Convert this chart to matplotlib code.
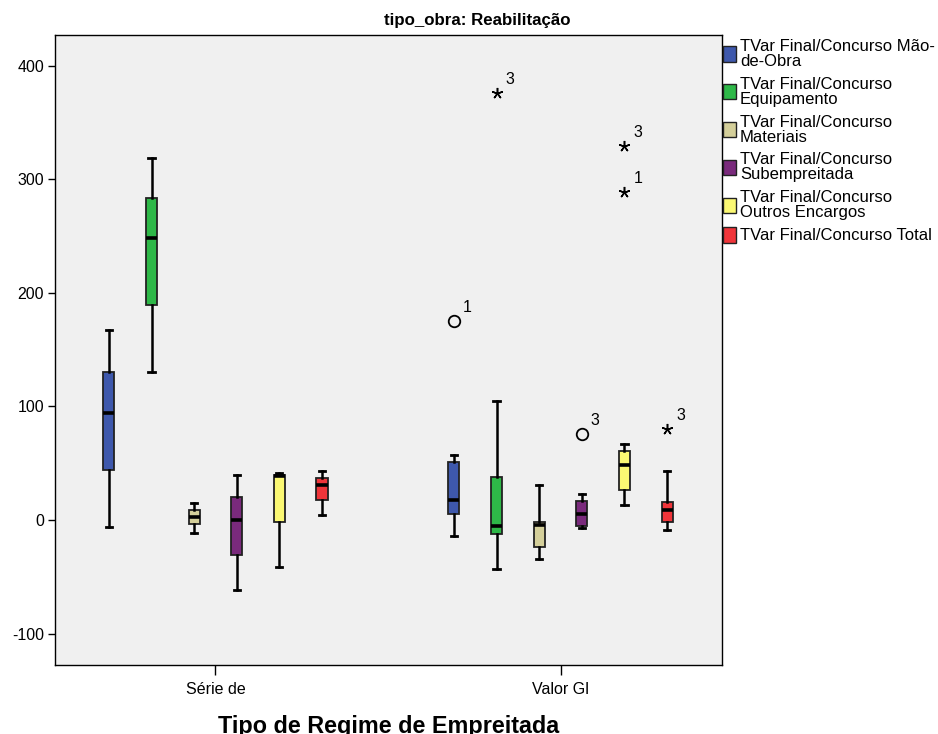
import matplotlib
matplotlib.use("Agg")
import matplotlib.pyplot as plt
from matplotlib.patches import Rectangle

plt.rcParams['font.family'] = ['Liberation Sans', 'DejaVu Sans']

# ---- data ----
groups = ["Série de", "Valor Gl"]
series = [
    "TVar Final/Concurso Mão-\nde-Obra",
    "TVar Final/Concurso\nEquipamento",
    "TVar Final/Concurso\nMateriais",
    "TVar Final/Concurso\nSubempreitada",
    "TVar Final/Concurso\nOutros Encargos",
    "TVar Final/Concurso Total",
]
colors = ["#3E58AC", "#2EB848", "#D4CF9A", "#7A2A7C", "#FBF873", "#F0353A"]

# five-number summaries: one list per series, one value per group
whis_lo = [[-6, -14], [130, -43], [-11, -34], [-62, -7], [-41, 13], [4, -9]]
q1 = [[44, 5], [189, -12], [-3.5, -24], [-31, -5], [-2, 26], [17.5, -1.5]]
median = [[94, 18], [248, -5], [3, -4], [0, 5], [39, 48], [30.5, 9]]
q3 = [[130, 51.5], [283, 37.5], [9, -2], [20, 17], [40, 61], [37, 16]]
whis_hi = [[167, 57], [319, 105], [15, 31], [40, 23], [41, 67], [43, 43]]

# outliers: (group index, series index, value, case label, extreme?)
outliers = [
    (1, 0, 175, "1", False),
    (1, 1, 376, "3", True),
    (1, 3, 76, "3", False),
    (1, 4, 329, "3", True),
    (1, 4, 289, "1", True),
    (1, 5, 80, "3", True),
]

yticks = [-100, 0, 100, 200, 300, 400]

# ---- layout ----
W, H = 938, 734
fig = plt.figure(figsize=(W / 100, H / 100), dpi=100)
fig.patch.set_facecolor("white")
ax = fig.add_axes([55 / W, 69 / H, 667 / W, 630 / H])
ax.set_facecolor("#F0F0F0")

step = 0.1235
box_w = 0.032
cap_w = 0.018

for s in range(len(series)):
    stats = []
    pos = []
    for g in range(len(groups)):
        stats.append(dict(med=median[s][g], q1=q1[s][g], q3=q3[s][g],
                          whislo=whis_lo[s][g], whishi=whis_hi[s][g],
                          fliers=[]))
        pos.append(g + (s - 2.5) * step)
    ax.bxp(stats, positions=pos, widths=box_w, capwidths=cap_w,
           patch_artist=True, showfliers=False, manage_ticks=False,
           boxprops=dict(facecolor=colors[s], edgecolor="#222222", linewidth=1.3),
           medianprops=dict(color="black", linewidth=2.6),
           whiskerprops=dict(color="black", linewidth=1.8),
           capprops=dict(color="black", linewidth=2.0))

for g, s, v, lab, extreme in outliers:
    x = g + (s - 2.5) * step
    if extreme:
        ax.plot([x], [v], marker=(5, 2, 0), markersize=8, color="black",
                markeredgewidth=1.1, linestyle="none")
    else:
        ax.plot([x], [v], marker="o", markersize=8.3, markerfacecolor="none",
                markeredgecolor="black", markeredgewidth=1.3, linestyle="none")
    ax.annotate(lab, (x, v), xytext=(9, 6), textcoords="offset pixels",
                fontsize=11.5, ha="left", va="bottom")

ax.set_xlim(-0.465, 1.468)
ax.set_ylim(-127.6, 426.9)
ax.set_yticks(yticks)
ax.set_yticklabels([str(t) for t in yticks], fontsize=11.5)
ax.set_xticks(range(len(groups)))
ax.set_xticklabels(groups, fontsize=11.5)
ax.tick_params(axis="y", direction="out", length=5, width=1, pad=3)
ax.tick_params(axis="x", direction="out", length=7, width=1, pad=5)
for sp in ax.spines.values():
    sp.set_color("black")
    sp.set_linewidth(1.0)

ax.set_xlabel("Tipo de Regime de Empreitada", fontsize=16.8, fontweight="bold",
              labelpad=13)
fig.text(477 / W, 1 - 20 / H, "tipo_obra: Reabilitação", fontsize=12.2,
         fontweight="bold", ha="center", va="center")

# ---- legend ----
line_gap = 16
for k, (name, col) in enumerate(zip(series, colors)):
    y1 = 46 + 37.8 * k
    nlines = name.count("\n") + 1
    yc = y1 + (nlines - 1) * line_gap / 2
    fig.patches.append(Rectangle((723 / W, 1 - (yc + 7.5) / H), 13 / W, 15 / H,
                                 transform=fig.transFigure, facecolor=col,
                                 edgecolor="#222222", linewidth=1.0))
    fig.text(740 / W, 1 - yc / H, name, fontsize=12, ha="left", va="center",
             linespacing=1.0)

fig.savefig("out.png", dpi=100)
